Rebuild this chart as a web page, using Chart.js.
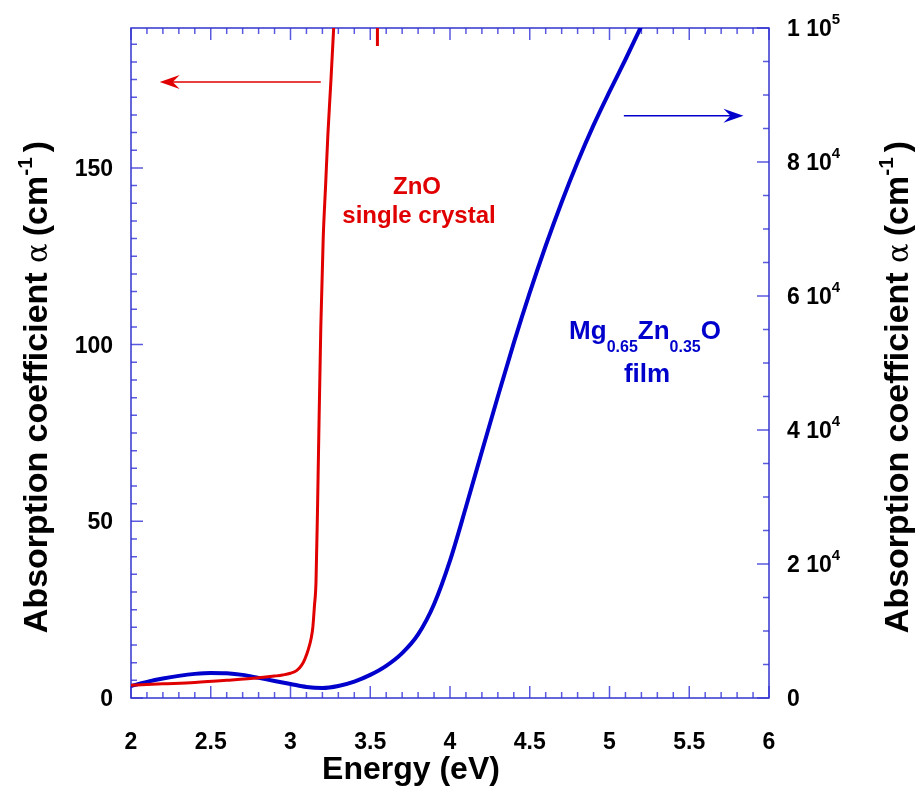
<!DOCTYPE html>
<html>
<head>
<meta charset="utf-8">
<script src="https://cdn.jsdelivr.net/npm/chart.js@4.4.1/dist/chart.umd.min.js"></script>
<style>
  html, body { margin: 0; padding: 0; background: #fff; }
</style>
</head>
<body>
<canvas id="myChart" width="919" height="791"></canvas>
<script>
// DATA ----------------------------------------------------------------

// ZnO single crystal, left axis (cm-1)
const znoEnergy = [2.0, 2.2, 2.4, 2.6, 2.8, 2.9, 2.95, 3.0, 3.04, 3.07, 3.09, 3.11, 3.13, 3.14, 3.15, 3.16, 3.17, 3.175, 3.19, 3.205, 3.22, 3.235, 3.25, 3.27, 3.28];
const znoAlpha  = [3.6, 4.0, 4.4, 5.0, 5.7, 6.2, 6.5, 7.0, 7.8, 9.3, 11, 13.5, 17, 20, 26, 33, 55, 68, 105, 130, 145, 160, 172, 189, 200];

// stray ZnO point near the top edge
const znoSpikeEnergy = [3.545, 3.545];
const znoSpikeAlpha  = [195, 184.5];

// Mg0.65Zn0.35O film, right axis (cm-1)
const filmEnergy = [2.0, 2.1, 2.2, 2.3, 2.4, 2.5, 2.6, 2.7, 2.8, 2.9, 3.0, 3.1, 3.2, 3.3, 3.4, 3.5, 3.6, 3.7, 3.8, 3.9, 4.0, 4.1, 4.2, 4.3, 4.4, 4.5, 4.6, 4.7, 4.8, 4.9, 5.0, 5.1, 5.2];
const filmAlpha  = [1800, 2400, 2900, 3300, 3600, 3750, 3700, 3450, 3000, 2550, 2100, 1650, 1500, 1800, 2450, 3450, 4800, 6700, 9500, 14000, 20500, 28500, 36800, 45000, 53000, 60500, 67500, 74000, 80000, 85500, 90500, 95300, 100300];

// tick labels
const xTicks = [2, 2.5, 3, 3.5, 4, 4.5, 5, 5.5, 6];
const xTickLabels = ['2', '2.5', '3', '3.5', '4', '4.5', '5', '5.5', '6'];
const leftTicks = [0, 50, 100, 150];
const rightTicks = [0, 20000, 40000, 60000, 80000, 100000];
const rightTickBase = ['0', '2 10', '4 10', '6 10', '8 10', '1 10'];
const rightTickExp  = ['', '4', '4', '4', '4', '5'];

// STYLES --------------------------------------------------------------

const RED = '#e00000';
const BLUE = '#0000cc';
const FRAME = '#3535d0';
const TICK = '#5a5ae0';
const FONT = '"Liberation Sans", Arial, Helvetica, sans-serif';

function toPoints(xs, ys) {
    return xs.map((v, i) => ({ x: v, y: ys[i] }));
}

// draws a run of text pieces (for sub/superscripts)
function richText(ctx, parts, x, y, align) {
    let w = 0;
    parts.forEach(p => {
        ctx.font = p.font;
        p.w = ctx.measureText(p.t).width;
        w += p.w + (p.gap || 0);
    });
    let cx = x;
    if (align === 'center') cx = x - w / 2;
    if (align === 'right') cx = x - w;
    ctx.textAlign = 'left';
    ctx.textBaseline = 'alphabetic';
    parts.forEach(p => {
        ctx.font = p.font;
        ctx.fillText(p.t, cx, y + (p.dy || 0));
        cx += p.w + (p.gap || 0);
    });
}

function arrow(ctx, x1, x2, y, color, lw) {
    const dir = Math.sign(x2 - x1);
    ctx.strokeStyle = color;
    ctx.fillStyle = color;
    ctx.lineWidth = lw;
    ctx.beginPath();
    ctx.moveTo(x1, y);
    ctx.lineTo(x2 - dir * 8, y);
    ctx.stroke();
    ctx.beginPath();
    ctx.moveTo(x2, y);
    ctx.lineTo(x2 - dir * 20, y - 7);
    ctx.lineTo(x2 - dir * 13, y);
    ctx.lineTo(x2 - dir * 20, y + 7);
    ctx.closePath();
    ctx.fill();
}

const yTitle = [
    { t: 'Absorption coefficient ', font: 'bold 34px ' + FONT },
    { t: '\u03b1', font: '29px "DejaVu Serif", serif', gap: 7 },
    { t: '(cm', font: 'bold 34px ' + FONT },
    { t: '-1', font: 'bold 21px ' + FONT, dy: -15, gap: 5 },
    { t: ')', font: 'bold 34px ' + FONT }
];

// frame + inward ticks, under the curves
const framePlugin = {
    id: 'framePlugin',
    beforeDatasetsDraw(chart) {
        const { ctx, chartArea: a, scales } = chart;
        const x = scales.x, y = scales.y, y2 = scales.y2;
        ctx.save();
        ctx.strokeStyle = TICK;
        ctx.lineWidth = 1.5;
        ctx.beginPath();
        for (let i = 0; i <= 40; i++) {
            const px = x.getPixelForValue(2 + i * 0.1);
            const len = i % 5 === 0 ? 12 : 6;
            ctx.moveTo(px, a.bottom); ctx.lineTo(px, a.bottom - len);
            ctx.moveTo(px, a.top); ctx.lineTo(px, a.top + len);
        }
        for (let i = 0; i <= 37; i++) {
            const py = y.getPixelForValue(i * 5);
            const len = i % 10 === 0 ? 12 : 6;
            ctx.moveTo(a.left, py); ctx.lineTo(a.left + len, py);
        }
        for (let i = 0; i <= 20; i++) {
            const py = y2.getPixelForValue(i * 5000);
            const len = i % 4 === 0 ? 12 : 6;
            ctx.moveTo(a.right, py); ctx.lineTo(a.right - len, py);
        }
        ctx.stroke();
        ctx.strokeStyle = FRAME;
        ctx.lineWidth = 1.5;
        ctx.strokeRect(a.left, a.top, a.right - a.left, a.bottom - a.top);
        ctx.restore();
    },
    afterDraw(chart) {
        const { ctx, chartArea: a, scales } = chart;
        const x = scales.x, y = scales.y, y2 = scales.y2;
        ctx.save();
        ctx.fillStyle = '#000';

        // tick labels
        ctx.font = 'bold 23px ' + FONT;
        ctx.textBaseline = 'alphabetic';
        ctx.textAlign = 'center';
        xTicks.forEach((v, i) => ctx.fillText(xTickLabels[i], x.getPixelForValue(v), 749));
        ctx.textAlign = 'right';
        leftTicks.forEach(v => ctx.fillText(String(v), a.left - 18, y.getPixelForValue(v) + 8));
        rightTicks.forEach((v, i) => {
            const parts = [{ t: rightTickBase[i], font: 'bold 23px ' + FONT }];
            if (rightTickExp[i]) parts.push({ t: rightTickExp[i], font: 'bold 15px ' + FONT, dy: -12, gap: 1 });
            richText(ctx, parts, a.right + 18, y2.getPixelForValue(v) + 8, 'left');
        });

        // axis titles
        ctx.font = 'bold 32px ' + FONT;
        ctx.textAlign = 'center';
        ctx.fillText('Energy (eV)', 411, 779);

        [[47, 387], [908, 387]].forEach(([bx, cy]) => {
            ctx.save();
            ctx.translate(bx, cy);
            ctx.rotate(-Math.PI / 2);
            richText(ctx, yTitle.map(p => Object.assign({}, p)), 0, 0, 'center');
            ctx.restore();
        });

        // arrows
        arrow(ctx, x.getPixelForValue(3.19), x.getPixelForValue(2.18), y.getPixelForValue(174.3), RED, 1.5);
        arrow(ctx, x.getPixelForValue(5.09), x.getPixelForValue(5.84), y2.getPixelForValue(86900), BLUE, 1.5);

        // curve labels
        ctx.fillStyle = RED;
        ctx.font = 'bold 24px ' + FONT;
        ctx.textAlign = 'center';
        ctx.fillText('ZnO', 417, 194);
        ctx.fillText('single crystal', 419, 223);

        ctx.fillStyle = BLUE;
        richText(ctx, [
            { t: 'Mg', font: 'bold 26px ' + FONT },
            { t: '0.65', font: 'bold 16px ' + FONT, dy: 13 },
            { t: 'Zn', font: 'bold 26px ' + FONT },
            { t: '0.35', font: 'bold 16px ' + FONT, dy: 13 },
            { t: 'O', font: 'bold 26px ' + FONT }
        ], 645, 339, 'center');
        ctx.font = 'bold 26px ' + FONT;
        ctx.textAlign = 'center';
        ctx.fillText('film', 647, 382);
        ctx.restore();
    }
};

// CHART ---------------------------------------------------------------

const ctx = document.getElementById('myChart');

new Chart(ctx, {
    type: 'scatter',
    data: {
        datasets: [
            {
                label: 'ZnO single crystal',
                data: toPoints(znoEnergy, znoAlpha),
                yAxisID: 'y',
                showLine: true,
                borderColor: RED,
                borderWidth: 3,
                cubicInterpolationMode: 'monotone',
                pointRadius: 0,
                clip: 0
            },
            {
                label: 'ZnO spike',
                data: toPoints(znoSpikeEnergy, znoSpikeAlpha),
                yAxisID: 'y',
                showLine: true,
                borderColor: RED,
                borderWidth: 3,
                pointRadius: 0,
                clip: 0
            },
            {
                label: 'Mg0.65Zn0.35O film',
                data: toPoints(filmEnergy, filmAlpha),
                yAxisID: 'y2',
                showLine: true,
                borderColor: BLUE,
                borderWidth: 4,
                cubicInterpolationMode: 'monotone',
                pointRadius: 0,
                clip: 0
            }
        ]
    },
    options: {
        responsive: false,
        animation: false,
        devicePixelRatio: 1,
        layout: { padding: { left: 131, right: 150, top: 28, bottom: 93 } },
        plugins: {
            legend: { display: false },
            tooltip: { enabled: false }
        },
        scales: {
            x: { type: 'linear', min: 2, max: 6, display: false },
            y: { type: 'linear', position: 'left', min: 0, max: 189.6, display: false },
            y2: { type: 'linear', position: 'right', min: 0, max: 100000, display: false }
        }
    },
    plugins: [framePlugin]
});
</script>
</body>
</html>
